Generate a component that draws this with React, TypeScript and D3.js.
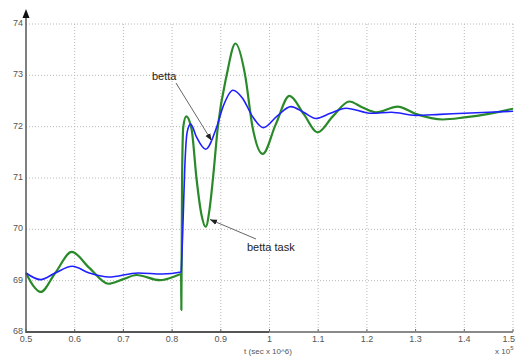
import React, { useEffect, useRef } from 'react';
import * as d3 from 'd3';

// time (x 1e5) and angle values
const bettaT = [0.5, 0.53, 0.56, 0.595, 0.63, 0.67, 0.73, 0.78, 0.8185, 0.8195, 0.822, 0.826, 0.831, 0.838, 0.85, 0.869, 0.89, 0.905, 0.925, 0.945, 0.965, 0.987, 1.015, 1.044, 1.07, 1.095, 1.125, 1.157, 1.21, 1.25, 1.3, 1.35, 1.4, 1.5];
const bettaV = [69.15, 69.02, 69.15, 69.28, 69.15, 69.07, 69.15, 69.13, 69.17, 69.35, 70.0, 71.2, 71.9, 72.05, 71.8, 71.56, 71.95, 72.4, 72.71, 72.55, 72.2, 71.98, 72.2, 72.39, 72.28, 72.16, 72.26, 72.36, 72.26, 72.28, 72.22, 72.24, 72.26, 72.3];

const taskT = [0.5, 0.515, 0.53, 0.56, 0.594, 0.63, 0.669, 0.7, 0.727, 0.775, 0.81, 0.8185, 0.819, 0.8205, 0.823, 0.829, 0.84, 0.85, 0.86, 0.869, 0.877, 0.884, 0.894, 0.912, 0.93, 0.95, 0.965, 0.986, 1.013, 1.041, 1.07, 1.099, 1.13, 1.164, 1.19, 1.219, 1.263, 1.3, 1.356, 1.4, 1.45, 1.5];
const taskV = [69.15, 68.9, 68.78, 69.15, 69.56, 69.25, 68.94, 69.03, 69.11, 69.01, 69.1, 69.13, 68.43, 71.0, 72.0, 72.2, 71.95, 71.0, 70.3, 70.05, 70.4, 71.0, 72.0, 73.0, 73.62, 73.0, 72.0, 71.47, 72.05, 72.6, 72.25, 71.89, 72.2, 72.49, 72.38, 72.28, 72.39, 72.25, 72.14, 72.18, 72.25, 72.35];

const xTicks = [0.5, 0.6, 0.7, 0.8, 0.9, 1, 1.1, 1.2, 1.3, 1.4, 1.5];
const xTickLabels = ['0.5', '0.6', '0.7', '0.8', '0.9', '1', '1.1', '1.2', '1.3', '1.4', '1.5'];
const yTicks = [68, 69, 70, 71, 72, 73, 74];

const App = () => {
  const ref = useRef<SVGSVGElement>(null);

  useEffect(() => {
    const width = 516;
    const height = 356;
    const svg = d3.select(ref.current);
    svg.selectAll('*').remove();
    svg.attr('width', width).attr('height', height);

    const x = d3.scaleLinear().domain([0.5, 1.5]).range([26, 513]);
    const y = d3.scaleLinear().domain([68, 74]).range([332, 24]);
    const font = 'Liberation Sans, Arial, sans-serif';

    // dotted grid
    const grid = svg.append('g').attr('stroke', '#b8b8b8').attr('stroke-dasharray', '1,2').attr('stroke-width', 1);
    xTicks.slice(1).forEach((t) => {
      grid.append('line').attr('x1', x(t)).attr('x2', x(t)).attr('y1', y(74)).attr('y2', y(68));
    });
    yTicks.slice(1).forEach((v) => {
      grid.append('line').attr('x1', x(0.5)).attr('x2', x(1.5)).attr('y1', y(v)).attr('y2', y(v));
    });

    // inner tick marks
    xTicks.forEach((t) => {
      svg.append('line').attr('x1', x(t)).attr('x2', x(t)).attr('y1', y(68)).attr('y2', y(68) - 3)
        .attr('stroke', '#666').attr('stroke-width', 1);
    });

    // curves
    const line = d3.line<[number, number]>()
      .x((d) => x(d[0]))
      .y((d) => y(d[1]))
      .curve(d3.curveMonotoneX);

    const task = taskT.map((t, i) => [t, taskV[i]] as [number, number]);
    const betta = bettaT.map((t, i) => [t, bettaV[i]] as [number, number]);

    svg.append('path').attr('d', line(task)).attr('fill', 'none')
      .attr('stroke', '#2a8a2a').attr('stroke-width', 2.2).attr('stroke-linejoin', 'round');
    svg.append('path').attr('d', line(betta)).attr('fill', 'none')
      .attr('stroke', '#1f1fff').attr('stroke-width', 1.6).attr('stroke-linejoin', 'round');

    // axes
    svg.append('line').attr('x1', x(0.5)).attr('x2', x(1)).attr('y1', y(68)).attr('y2', y(68))
      .attr('stroke', '#555').attr('stroke-width', 2);
    svg.append('line').attr('x1', x(1)).attr('x2', x(1.5)).attr('y1', y(68)).attr('y2', y(68))
      .attr('stroke', '#8a8a8a').attr('stroke-width', 2);
    svg.append('line').attr('x1', x(0.5)).attr('x2', x(0.5)).attr('y1', y(68) + 1).attr('y2', 16)
      .attr('stroke', '#555').attr('stroke-width', 1.5);
    svg.append('path').attr('d', `M${x(0.5)},9 L${x(0.5) - 3.5},18 L${x(0.5) + 3.5},18 Z`).attr('fill', '#111');

    // tick labels
    yTicks.forEach((v) => {
      svg.append('text').attr('x', 23).attr('y', y(v) - 1).attr('dy', '0.35em')
        .attr('text-anchor', 'end').attr('font-family', font).attr('font-size', 9).attr('fill', '#555')
        .text(String(v));
    });
    xTicks.forEach((t, i) => {
      const last = i === xTicks.length - 1;
      svg.append('text').attr('x', last ? width - 1 : x(t)).attr('y', 342)
        .attr('text-anchor', last ? 'end' : 'middle').attr('font-family', font).attr('font-size', 9).attr('fill', '#555')
        .text(xTickLabels[i]);
    });

    svg.append('text').attr('x', 268).attr('y', 354).attr('text-anchor', 'middle')
      .attr('font-family', font).attr('font-size', 8).attr('fill', '#555').text('t (sec x 10^6)');
    const mult = svg.append('text').attr('x', 495).attr('y', 354)
      .attr('font-family', font).attr('font-size', 8).attr('fill', '#555');
    mult.append('tspan').text('x 10');
    mult.append('tspan').attr('dy', -4).attr('font-size', 6).text('5');

    // annotations
    const defs = svg.append('defs');
    defs.append('marker').attr('id', 'ah').attr('viewBox', '0 0 10 10').attr('refX', 10).attr('refY', 5)
      .attr('markerWidth', 7).attr('markerHeight', 7).attr('orient', 'auto')
      .append('path').attr('d', 'M0,1 L10,5 L0,9 Z').attr('fill', '#222');

    svg.append('text').attr('x', 152).attr('y', 80).attr('font-family', font).attr('font-size', 11)
      .attr('fill', '#222').text('betta');
    svg.append('line').attr('x1', 176).attr('y1', 83).attr('x2', 211.5).attr('y2', 140.5)
      .attr('stroke', '#666').attr('stroke-width', 1).attr('marker-end', 'url(#ah)');

    svg.append('text').attr('x', 247).attr('y', 251).attr('font-family', font).attr('font-size', 11)
      .attr('fill', '#222').text('betta task');
    svg.append('line').attr('x1', 256).attr('y1', 239).attr('x2', 210).attr('y2', 219.5)
      .attr('stroke', '#666').attr('stroke-width', 1).attr('marker-end', 'url(#ah)');

    return () => {
      svg.selectAll('*').remove();
    };
  }, []);

  return <svg ref={ref} style={{ position: 'absolute', left: 0, top: 0, background: '#fff' }} />;
};

export default App;
